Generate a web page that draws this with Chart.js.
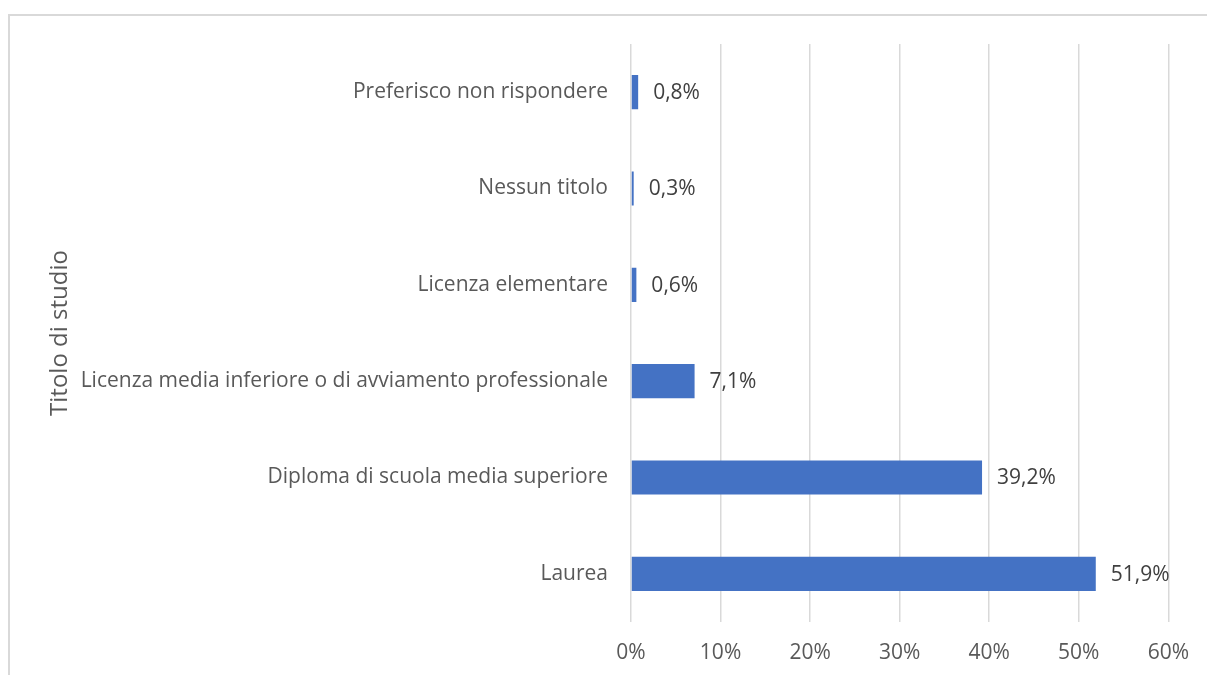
<!DOCTYPE html>
<html>
<head>
<meta charset="utf-8">
<script src="https://cdn.jsdelivr.net/npm/chart.js@4/dist/chart.umd.min.js"></script>
<style>
  html, body { margin: 0; padding: 0; background: #ffffff; }
  #wrap { width: 1207px; height: 675px; }
</style>
</head>
<body>
<div id="wrap"><canvas id="c" width="1207" height="675"></canvas></div>
<script>
// Titolo di studio: share of respondents (%)
const categories = [
  'Preferisco non rispondere',
  'Nessun titolo',
  'Licenza elementare',
  'Licenza media inferiore o di avviamento professionale',
  'Diploma di scuola media superiore',
  'Laurea'
];
const shares = [0.8, 0.3, 0.6, 7.1, 39.2, 51.9];
const xTicks = [0, 10, 20, 30, 40, 50, 60];
const axisTitle = 'Titolo di studio';

const FONT = "'Open Sans', 'DejaVu Sans', sans-serif";
const GRID = '#d9d9d9';
const TEXT = '#595959';

// Light frame along the top and left edges
const framePlugin = {
  id: 'frame',
  beforeDraw(chart) {
    const ctx = chart.ctx;
    ctx.save();
    ctx.fillStyle = '#ffffff';
    ctx.fillRect(0, 0, chart.width, chart.height);
    ctx.strokeStyle = GRID;
    ctx.lineWidth = 2;
    ctx.beginPath();
    ctx.moveTo(9, chart.height);
    ctx.lineTo(9, 15);
    ctx.lineTo(chart.width, 15);
    ctx.stroke();
    ctx.restore();
  }
};

// Value labels to the right of each bar
const valueLabels = {
  id: 'valueLabels',
  afterDatasetsDraw(chart) {
    const ctx = chart.ctx;
    const meta = chart.getDatasetMeta(0);
    ctx.save();
    ctx.font = '21px ' + FONT;
    ctx.fillStyle = '#404040';
    ctx.textAlign = 'left';
    ctx.textBaseline = 'middle';
    meta.data.forEach((bar, i) => {
      const v = chart.data.datasets[0].data[i];
      ctx.fillText(v.toFixed(1).replace('.', ',') + '%', bar.x + 15, bar.y + 1);
    });
    ctx.restore();
  }
};

new Chart(document.getElementById('c'), {
  type: 'bar',
  data: {
    labels: categories,
    datasets: [{
      data: shares,
      backgroundColor: '#4472C4',
      borderWidth: 0,
      barPercentage: 0.355,
      categoryPercentage: 1
    }]
  },
  options: {
    indexAxis: 'y',
    responsive: false,
    animation: false,
    devicePixelRatio: 1,
    layout: { padding: { left: 36, top: 44, right: 38, bottom: 0 } },
    plugins: {
      legend: { display: false },
      tooltip: { enabled: false }
    },
    scales: {
      x: {
        min: 0,
        max: 60,
        afterBuildTicks(scale) {
          scale.ticks = xTicks.map(v => ({ value: v }));
        },
        afterFit(scale) { scale.height = 53; },
        border: { display: false },
        grid: { color: GRID, lineWidth: 1.5, drawTicks: false },
        ticks: {
          padding: 18,
          color: TEXT,
          font: { family: FONT, size: 21 },
          callback: v => v + '%'
        }
      },
      y: {
        afterFit(scale) { scale.width = 595; },
        border: { display: false },
        grid: { display: false, drawTicks: false },
        ticks: {
          autoSkip: false,
          padding: 23,
          color: TEXT,
          font: { family: FONT, size: 21 }
        },
        title: {
          display: true,
          text: axisTitle,
          color: TEXT,
          padding: { top: 10, bottom: 0 },
          font: { family: FONT, size: 24 }
        }
      }
    }
  },
  plugins: [framePlugin, valueLabels]
});
</script>
</body>
</html>
